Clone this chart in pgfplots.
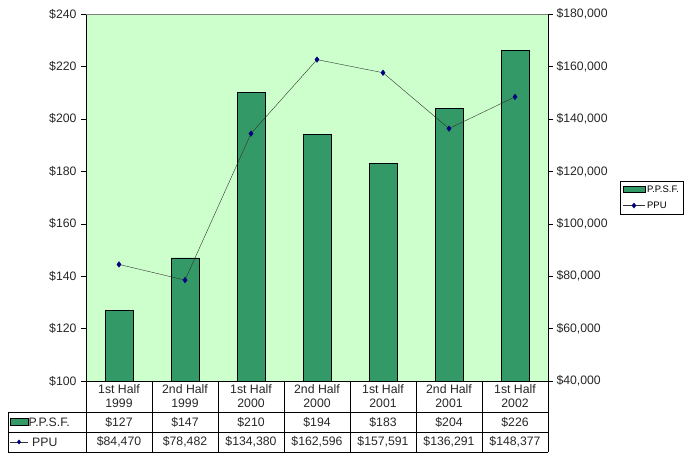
\documentclass[border=0pt]{standalone}
\usepackage{pgfplots}
\pgfplotsset{compat=1.18}
\usepackage{fontspec}
\setmainfont{Liberation Sans}
\definecolor{bgc}{HTML}{CCFFCC}
\definecolor{barc}{HTML}{339966}
\definecolor{linec}{HTML}{333333}
\definecolor{markc}{HTML}{000080}
\newcommand{\tfont}{\fontsize{12.3}{14}\selectfont}
\begin{document}
\begin{tikzpicture}[x=1bp,y=1bp]
\useasboundingbox (0,0) rectangle (689,454);
\begin{axis}[
 at={(86bp,73bp)}, anchor=south west,
 scale only axis, width=462bp, height=367bp,
 xmin=-0.5, xmax=6.5, ymin=100, ymax=240,
 ytick={100,120,140,160,180,200,220,240},
 yticklabel={\$\pgfmathprintnumber[fixed,precision=0]{\tick}},
 xtick=\empty,
 axis x line*=bottom, axis y line*=left,
 axis line style={-,black},
 tick align=outside, major tick length=5bp,
 ytick style={black},
 axis background/.style={fill=bgc},
 ticklabel style={font=\tfont, color=black!85},
 yticklabel style={xshift=-1bp},
 /pgf/number format/assume math mode=true,
 clip=false,
]
\addplot[ybar, bar width=28bp, fill=barc, draw=black] coordinates {(0,127) (1,147) (2,210) (3,194) (4,183) (5,204) (6,226)};
\draw[gray] (rel axis cs:0,1) -- (rel axis cs:1,1);
\end{axis}
\begin{axis}[
 at={(86bp,73bp)}, anchor=south west,
 scale only axis, width=462bp, height=367bp,
 xmin=-0.5, xmax=6.5, ymin=40000, ymax=180000,
 ytick={40000,60000,80000,100000,120000,140000,160000,180000},
 scaled y ticks=false,
 yticklabel={\$\pgfmathprintnumber[fixed,precision=0,1000 sep={,}]{\tick}},
 xtick=\empty,
 axis y line*=right, axis x line=none,
 axis line style={-,black},
 tick align=outside, major tick length=5bp,
 ytick style={black},
 ticklabel style={font=\tfont, color=black!85},
 /pgf/number format/assume math mode=true,
 legend style={at={(1.156,0.5)}, anchor=west, draw=black, font=\fontsize{9.5}{10}\selectfont,
   row sep=4bp, inner sep=2.5bp, legend cell align=left},
]
\addlegendimage{legend image code/.code={\draw[fill=barc,draw=black] (0bp,-3bp) rectangle (22bp,3bp);}}
\addlegendentry{P.P.S.F.}
\addplot[linec, thin, mark=diamond*, mark size=2.8bp, mark options={markc, fill=markc},
  legend image code/.code={\draw[linec] (0bp,0bp) -- (22bp,0bp); \fill[markc] (11bp,0bp) +(0,2.5bp) -- +(2bp,0) -- +(0,-2.5bp) -- +(-2bp,0) -- cycle;}]
 coordinates {(0,84470) (1,78482) (2,134380) (3,162596) (4,157591) (5,136291) (6,148377)};
\addlegendentry{PPU}
\end{axis}
% data table
\draw[black] (8,42) -- (548,42);
\draw[black] (8,22) -- (548,22);
\draw[black] (8,2) -- (548,2);
\draw[black] (8,42) -- (8,2);
\foreach \k in {0,...,7} { \draw[black] ({86+66*\k},73) -- ({86+66*\k},2); }
\begin{scope}[every node/.style={font=\tfont, inner sep=0, text=black!85}]
\foreach \lab [count=\i from 0] in {{1st Half\\1999},{2nd Half\\1999},{1st Half\\2000},{2nd Half\\2000},{1st Half\\2001},{2nd Half\\2001},{1st Half\\2002}}
  { \node[align=center] at ({119+66*\i},57.5) {\lab}; }
\foreach \v [count=\i from 0] in {127,147,210,194,183,204,226}
  { \node at ({119+66*\i},32) {\$\v}; }
\foreach \v [count=\i from 0] in {{84,470},{78,482},{134,380},{162,596},{157,591},{136,291},{148,377}}
  { \node at ({119+66*\i},12) {\$\v}; }
\draw[fill=barc, draw=black] (10,28.5) rectangle (28,35.5);
\node[anchor=west] at (28.5,32) {P.P.S.F.};
\draw[linec] (10,12) -- (28,12);
\fill[markc] (19,14.5) -- (21,12) -- (19,9.5) -- (17,12) -- cycle;
\node[anchor=west] at (32,12) {PPU};
\end{scope}
\end{tikzpicture}
\end{document}
